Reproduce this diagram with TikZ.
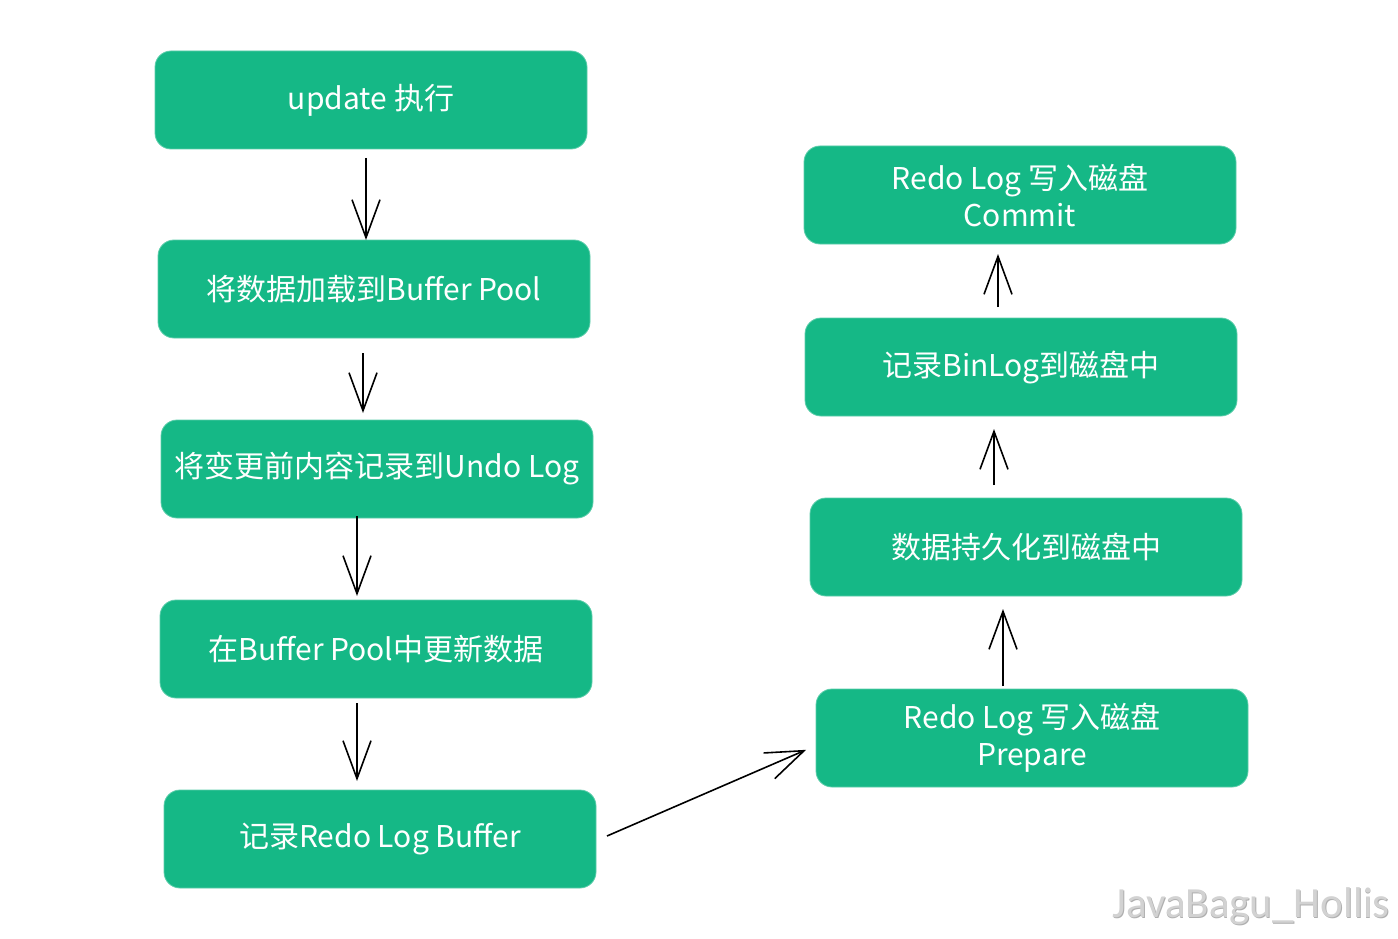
\documentclass[tikz,border=0pt]{standalone}
\usepackage{fontspec}
\setmainfont{Noto Sans CJK SC}
\newfontfamily\wmfont{Carlito}
\usetikzlibrary{arrows.meta}
\definecolor{boxgreen}{RGB}{21,184,134}
\definecolor{wmgray}{RGB}{210,210,210}
\definecolor{wmshadow}{RGB}{175,175,175}
\tikzset{
  stepbox/.style={fill=boxgreen, draw=boxgreen!70!white, line width=0.8pt, rounded corners=16pt,
    minimum width=432pt, minimum height=98pt, text=white, align=center,
    font=\fontsize{30}{37}\selectfont, inner sep=0pt},
  flow/.style={draw=black, line width=1.6pt, -{Straight Barb[length=38pt,width=28pt,line width=1.6pt]}, shorten >=2pt}
}
\begin{document}
\begin{tikzpicture}[x=1pt,y=-1pt]
\useasboundingbox (0,0) rectangle (1398,939);
\node[stepbox] (n1) at (371,100) {update 执行};
\node[stepbox] (n2) at (374,289) {将数据加载到Buffer Pool};
\node[stepbox] (n3) at (377,469) {将变更前内容记录到Undo Log};
\node[stepbox] (n4) at (376,649) {在Buffer Pool中更新数据};
\node[stepbox] (n5) at (380,839) {记录Redo Log Buffer};
\node[stepbox] (n6) at (1020,195) {Redo Log 写入磁盘\\Commit};
\node[stepbox] (n7) at (1021,367) {记录BinLog到磁盘中};
\node[stepbox] (n8) at (1026,547) {数据持久化到磁盘中};
\node[stepbox] (n9) at (1032,738) {Redo Log 写入磁盘\\Prepare};
\coordinate (a1s) at (366,158); \coordinate (a1e) at (366,242);
\coordinate (a2s) at (363,353); \coordinate (a2e) at (363,415);
\coordinate (a3s) at (357,516); \coordinate (a3e) at (357,598);
\coordinate (a4s) at (357,703); \coordinate (a4e) at (357,783);
\coordinate (a5s) at (607,836); \coordinate (a5e) at (808,749);
\coordinate (a6s) at (1003,686); \coordinate (a6e) at (1003,607);
\coordinate (a7s) at (994,485); \coordinate (a7e) at (994,427);
\coordinate (a8s) at (998,307); \coordinate (a8e) at (998,252);
\draw[flow] (a1s) -- (a1e);
\draw[flow] (a2s) -- (a2e);
\draw[flow] (a3s) -- (a3e);
\draw[flow] (a4s) -- (a4e);
\draw[flow] (a5s) -- (a5e);
\draw[flow] (a6s) -- (a6e);
\draw[flow] (a7s) -- (a7e);
\draw[flow] (a8s) -- (a8e);
\node[text=wmshadow, font=\wmfont\fontsize{43}{50}\selectfont, anchor=east, inner sep=0pt] at (1390.8,906.8) {JavaBagu\_Hollis};
\node[text=wmgray, font=\wmfont\fontsize{43}{50}\selectfont, anchor=east, inner sep=0pt] (wm) at (1390,906) {JavaBagu\_Hollis};
\end{tikzpicture}
\end{document}
